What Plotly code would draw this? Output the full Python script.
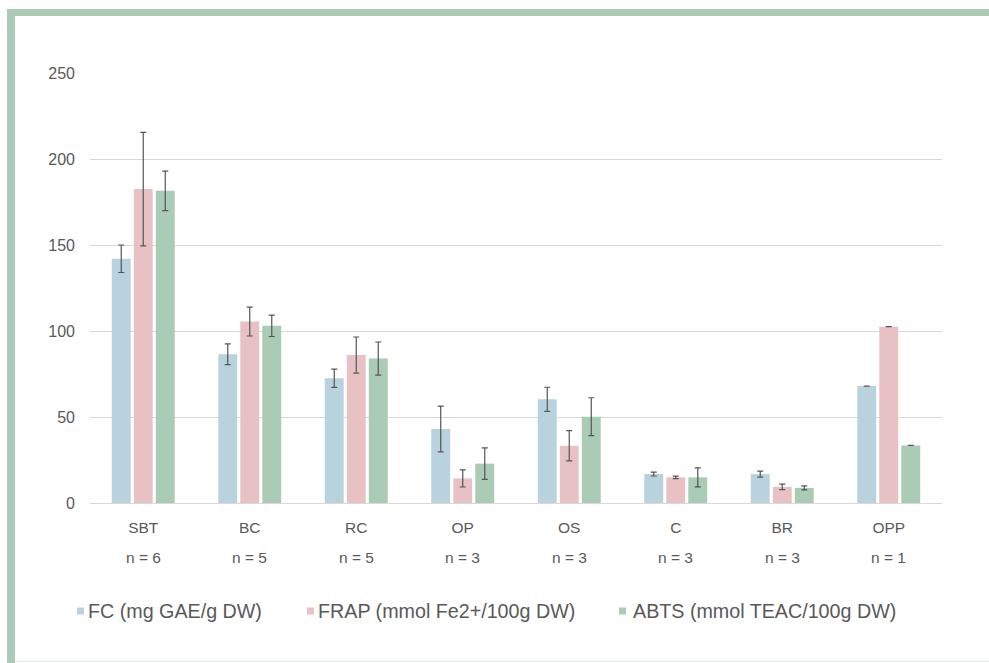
import plotly.graph_objects as go

# Sample groups and their sizes
categories = ["SBT", "BC", "RC", "OP", "OS", "C", "BR", "OPP"]
n_labels = ["n = 6", "n = 5", "n = 5", "n = 3", "n = 3", "n = 3", "n = 3", "n = 1"]

# Means and standard deviations per assay
fc = [142, 86.5, 72.5, 43, 60.3, 16.8, 16.8, 68]
fc_sd = [8, 6, 5.3, 13.3, 7, 1.1, 1.7, 0]
frap = [182.5, 105.5, 86, 14.3, 33.3, 14.9, 9.4, 102.5]
frap_sd = [33, 8.4, 10.5, 5, 8.8, 0.7, 1.6, 0]
abts = [181.5, 103, 84, 22.9, 50.2, 14.9, 8.8, 33.5]
abts_sd = [11.5, 6.2, 9.6, 9.2, 11, 5.5, 1.2, 0]

series_names = ["FC (mg GAE/g DW)", "FRAP (mmol Fe2+/100g DW)", "ABTS (mmol TEAC/100g DW)"]
series_colors = ["#b8d3dd", "#e8c1c4", "#aacbb6"]

y_ticks = [0, 50, 100, 150, 200, 250]

W, H = 989, 663
L, R, T, B = 90, 47, 73, 160
PW, PH = W - L - R, H - T - B
TXT = "#595959"
FONT = "Liberation Sans, Arial, sans-serif"


def px_x(p):
    return (p - L) / PW


def px_y(p):
    return (H - B - p) / PH


fig = go.Figure()
for name, vals, sd, col in zip(series_names, [fc, frap, abts], [fc_sd, frap_sd, abts_sd], series_colors):
    fig.add_trace(go.Bar(
        x=categories, y=vals, name=name, marker=dict(color=col, line=dict(width=0)),
        error_y=dict(type="data", array=sd, visible=True, color="#555555", thickness=1.2, width=3),
        showlegend=False,
    ))

shapes = []
annotations = []

# Frame around the figure
border = "#abcbb8"
shapes.append(dict(type="rect", xref="paper", yref="paper", x0=px_x(7), x1=px_x(15), y0=px_y(H + 5), y1=px_y(9),
                   fillcolor=border, line=dict(width=0), layer="below"))
shapes.append(dict(type="rect", xref="paper", yref="paper", x0=px_x(7), x1=px_x(W + 5), y0=px_y(16), y1=px_y(9),
                   fillcolor=border, line=dict(width=0), layer="below"))
shapes.append(dict(type="line", xref="paper", yref="paper", x0=px_x(15), x1=px_x(W + 5), y0=px_y(661.5), y1=px_y(661.5),
                   line=dict(color="#e4efea", width=1.5)))

# Group sizes under the category labels
for cat, n in zip(categories, n_labels):
    annotations.append(dict(x=cat, xref="x", y=px_y(557), yref="paper", text=n, showarrow=False,
                            xanchor="center", yanchor="middle", font=dict(family=FONT, size=15.5, color=TXT)))

# Legend row
legend_sq = [77, 307, 619]
legend_tx = [86, 316, 631]
for sq, tx, name, col in zip(legend_sq, legend_tx, series_names, series_colors):
    shapes.append(dict(type="rect", xref="paper", yref="paper", x0=px_x(sq), x1=px_x(sq + 7),
                       y0=px_y(614.5), y1=px_y(607.5), fillcolor=col, line=dict(width=0)))
    annotations.append(dict(x=px_x(tx), xref="paper", y=px_y(611), yref="paper", text=name, showarrow=False,
                            xanchor="left", yanchor="middle", font=dict(family=FONT, size=19.7, color=TXT)))

fig.update_layout(
    width=W, height=H,
    margin=dict(l=L, r=R, t=T, b=B, autoexpand=False),
    paper_bgcolor="white", plot_bgcolor="white",
    barmode="group", bargap=0.38, bargroupgap=0.14,
    font=dict(family=FONT, color=TXT),
    shapes=shapes, annotations=annotations,
    xaxis=dict(showgrid=False, showline=False, ticks="", ticklabelstandoff=13,
               tickfont=dict(family=FONT, size=15.5, color=TXT)),
    yaxis=dict(range=[0, 250], tickvals=y_ticks, showgrid=True, gridcolor="#d9d9d9", gridwidth=1,
               zeroline=True, zerolinecolor="#d9d9d9", zerolinewidth=1, showline=False, ticks="",
               ticklabelstandoff=14, tickfont=dict(family=FONT, size=16, color=TXT)),
)

fig.write_html("out.html")
